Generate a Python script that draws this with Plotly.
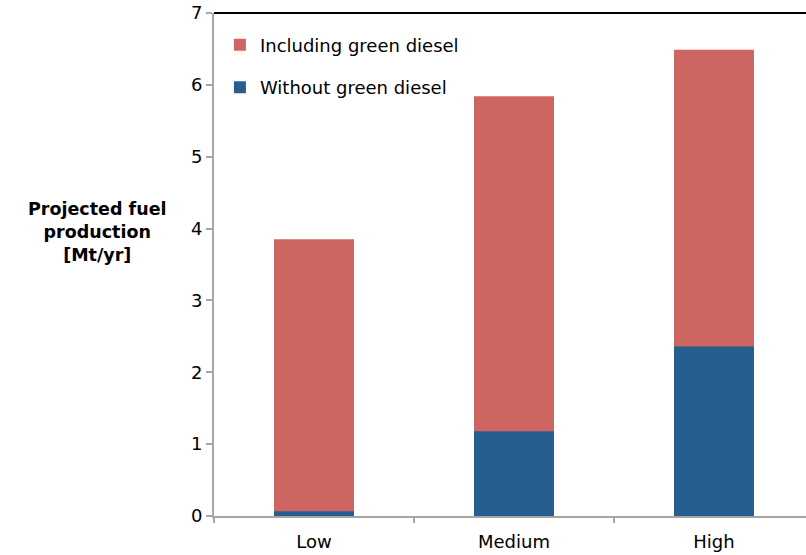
import plotly.graph_objects as go

# Projected fuel production scenarios (Mt/yr)
scenarios = ["Low", "Medium", "High"]
including_green_diesel = [3.85, 5.84, 6.49]
without_green_diesel = [0.065, 1.18, 2.36]

red = "#CD6660"
blue = "#265E90"
font_family = "DejaVu Sans, Verdana, sans-serif"

fig = go.Figure()
fig.add_trace(go.Bar(
    x=scenarios, y=including_green_diesel, name="Including green diesel",
    marker=dict(color=red, line=dict(width=0)), width=0.4,
    legendgroup="incl",
))
fig.add_trace(go.Bar(
    x=scenarios, y=without_green_diesel, name="Without green diesel",
    marker=dict(color=blue, line=dict(width=0)), width=0.4,
    legendgroup="without",
))

fig.update_layout(
    width=806, height=555,
    margin=dict(l=214, r=0, t=13, b=39),
    barmode="overlay",
    plot_bgcolor="white", paper_bgcolor="white",
    font=dict(family=font_family, size=18, color="#000000"),
    showlegend=True,
    legend=dict(
        x=0.01, y=0.973, xanchor="left", yanchor="top",
        bgcolor="rgba(0,0,0,0)", font=dict(size=18),
        traceorder="grouped", tracegroupgap=16,
        itemwidth=30,
    ),
    xaxis=dict(
        type="category", range=[-0.5, 2.46],
        showline=True, linecolor="#A6A6A6", linewidth=2,
        ticks="outside", tickson="boundaries", ticklen=5,
        tickcolor="#A6A6A6", tickwidth=2,
        showgrid=False, zeroline=False,
        tickfont=dict(size=18), ticklabelstandoff=8,
    ),
    yaxis=dict(
        range=[0, 7], dtick=1, tick0=0,
        showline=True, linecolor="#A6A6A6", linewidth=2,
        ticks="outside", ticklen=6, tickcolor="#A6A6A6", tickwidth=2,
        showgrid=False, zeroline=False,
        tickfont=dict(size=18),
    ),
    shapes=[dict(
        type="line", xref="paper", yref="paper",
        x0=0, x1=1, y0=1, y1=1,
        line=dict(color="#000000", width=2),
    )],
    annotations=[dict(
        text="<b>Projected fuel<br>production<br>[Mt/yr]</b>",
        xref="paper", yref="paper",
        x=-0.197, y=0.565, xanchor="center", yanchor="middle",
        showarrow=False, align="center",
        font=dict(size=17.5),
    )],
)

fig.write_html("out.html")
